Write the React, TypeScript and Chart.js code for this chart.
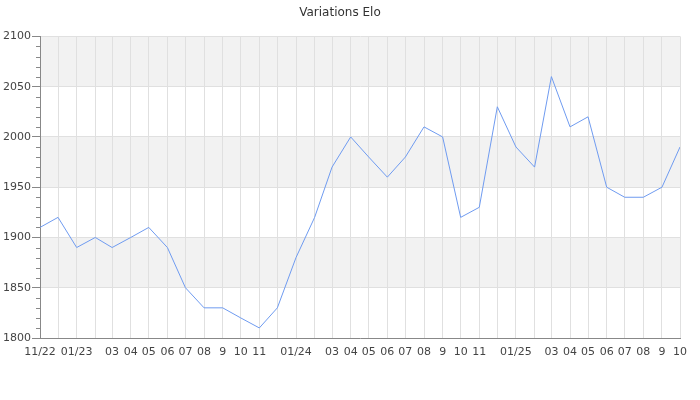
import React, { useEffect, useRef } from "react";
import { Chart, registerables } from "chart.js";

Chart.register(...registerables);

const months = [
  "2022-11", "2022-12", "2023-01", "2023-02", "2023-03", "2023-04", "2023-05", "2023-06", "2023-07",
  "2023-08", "2023-09", "2023-10", "2023-11", "2023-12", "2024-01", "2024-02", "2024-03", "2024-04",
  "2024-05", "2024-06", "2024-07", "2024-08", "2024-09", "2024-10", "2024-11", "2024-12", "2025-01",
  "2025-02", "2025-03", "2025-04", "2025-05", "2025-06", "2025-07", "2025-08", "2025-09", "2025-10",
];

const elo = [
  1910, 1920, 1890, 1900, 1890, 1900, 1910, 1890, 1850, 1830, 1830, 1820, 1810, 1830, 1880, 1920,
  1970, 2000, 1980, 1960, 1980, 2010, 2000, 1920, 1930, 2030, 1990, 1970, 2060, 2010, 2020, 1950,
  1940, 1940, 1950, 1990,
];

const tickLabels = [
  "11/22", "", "01/23", "", "03", "04", "05", "06", "07", "08", "9", "10", "11", "", "01/24", "",
  "03", "04", "05", "06", "07", "08", "9", "10", "11", "", "01/25", "", "03", "04", "05", "06",
  "07", "08", "9", "10",
];

const title = "Variations Elo";
const yMin = 1800;
const yMax = 2100;
const yStep = 50;
const yMinorStep = 10;

function toDay(m: string): number {
  const [y, mo] = m.split("-").map(Number);
  const [y0, mo0] = months[0].split("-").map(Number);
  return (Date.UTC(y, mo - 1, 1) - Date.UTC(y0, mo0 - 1, 1)) / 86400000;
}

const bandsPlugin = {
  id: "bands",
  beforeDraw(chart: any) {
    const { ctx, chartArea } = chart;
    const ys = chart.scales.y;
    ctx.save();
    for (let v = yMin; v < yMax; v += yStep) {
      const idx = (v - yMin) / yStep;
      if (idx % 2 === 1) {
        const top = ys.getPixelForValue(v + yStep);
        const bot = ys.getPixelForValue(v);
        ctx.fillStyle = "#f2f2f2";
        ctx.fillRect(chartArea.left, top, chartArea.right - chartArea.left, bot - top);
      }
    }
    ctx.restore();
  },
  afterDraw(chart: any) {
    const { ctx, chartArea } = chart;
    const ys = chart.scales.y;
    ctx.save();
    ctx.strokeStyle = "#888888";
    ctx.lineWidth = 1;
    for (let v = yMin; v <= yMax; v += yMinorStep) {
      if (v % yStep === 0) continue;
      const y = Math.round(ys.getPixelForValue(v)) + 0.5;
      ctx.beginPath();
      ctx.moveTo(chartArea.left - 4, y);
      ctx.lineTo(chartArea.left, y);
      ctx.stroke();
    }
    ctx.restore();
  },
};

export default function App() {
  const ref = useRef<HTMLCanvasElement>(null);
  useEffect(() => {
    document.body.style.margin = "0";
    const xs = months.map(toDay);
    const chart = new Chart(ref.current!, {
      type: "line",
      data: {
        datasets: [
          {
            label: "Elo",
            data: xs.map((x, i) => ({ x, y: elo[i] })),
            borderColor: "#6f9bf0",
            borderWidth: 1,
            pointRadius: 0,
            tension: 0,
            fill: false,
          },
        ],
      },
      options: {
        animation: false,
        responsive: false,
        maintainAspectRatio: false,
        layout: { padding: { left: 0, right: 20, top: 0, bottom: 0 } },
        plugins: {
          legend: { display: false },
          tooltip: { enabled: false },
          title: {
            display: true,
            text: title,
            color: "#333333",
            font: { family: "DejaVu Sans", size: 12, weight: "normal" },
            padding: { top: 6, bottom: 16 },
          },
        },
        scales: {
          x: {
            type: "linear",
            min: xs[0],
            max: xs[xs.length - 1],
            afterBuildTicks: (scale: any) => {
              scale.ticks = xs.map((v) => ({ value: v }));
            },
            afterFit: (scale: any) => {
              scale.height = 62;
            },
            ticks: {
              autoSkip: false,
              maxRotation: 0,
              minRotation: 0,
              padding: 8,
              color: "#444444",
              font: { family: "DejaVu Sans", size: 11 },
              callback: (_v: any, i: number) => tickLabels[i],
            },
            grid: { color: "#e0e0e0", drawTicks: false },
            border: { color: "#888888" },
          },
          y: {
            min: yMin,
            max: yMax,
            afterFit: (scale: any) => {
              scale.width = 40;
            },
            ticks: {
              stepSize: yStep,
              padding: 1,
              color: "#444444",
              font: { family: "DejaVu Sans", size: 11 },
              callback: (v: any) => String(v),
            },
            grid: { color: "#e0e0e0", tickLength: 8, tickColor: "#888888" },
            border: { color: "#888888" },
          },
        },
      },
      plugins: [bandsPlugin],
    });
    return () => chart.destroy();
  }, []);
  return (
    <div style={{ width: 700, height: 400 }}>
      <canvas ref={ref} width={700} height={400} style={{ width: 700, height: 400 }} />
    </div>
  );
}
